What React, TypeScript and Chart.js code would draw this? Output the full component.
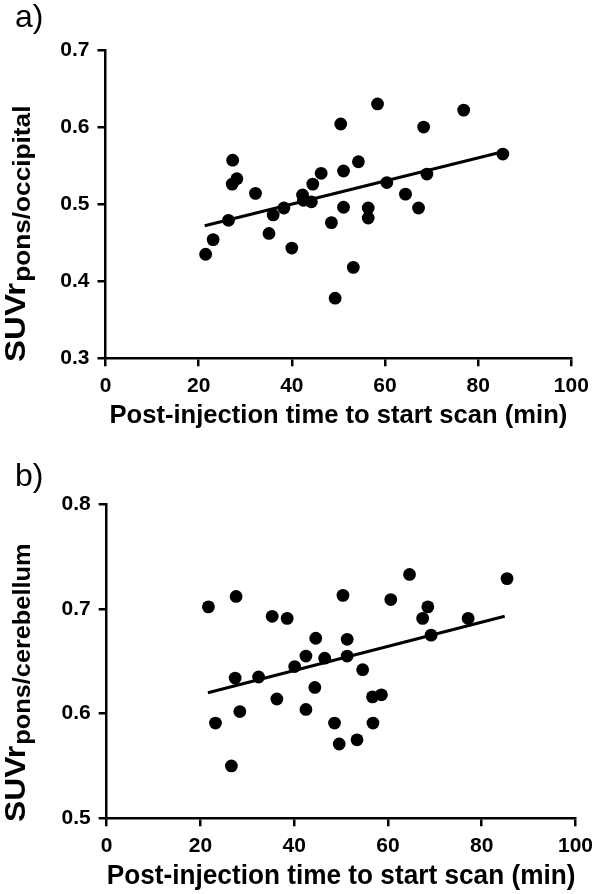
import React, { useEffect, useRef } from "react";
import { Chart, registerables } from "chart.js";

Chart.register(...registerables);

const FONT = '"Liberation Sans", Arial, Helvetica, sans-serif';

// Panel a: SUVr pons/occipital
const timeA = [21.5, 23.1, 26.4, 27.3, 27.2, 28.2, 32.2, 35.1, 36.0, 38.3, 40.0, 42.3, 42.5, 44.2, 44.5, 46.3, 48.5, 49.3, 50.5, 51.1, 51.1, 53.2, 54.3, 56.4, 56.4, 58.4, 60.4, 64.4, 67.2, 68.3, 69.0, 76.9, 85.3];
const suvrA = [0.435, 0.454, 0.479, 0.557, 0.526, 0.533, 0.514, 0.462, 0.486, 0.495, 0.443, 0.512, 0.505, 0.503, 0.526, 0.540, 0.476, 0.378, 0.604, 0.543, 0.496, 0.418, 0.555, 0.495, 0.482, 0.630, 0.528, 0.513, 0.495, 0.600, 0.539, 0.622, 0.565];
const fitTimeA = [21.3, 85.3];
const fitSuvrA = [0.472, 0.568];
const yTicksA = [0.3, 0.4, 0.5, 0.6, 0.7];

// Panel b: SUVr pons/cerebellum
const timeB = [21.7, 27.6, 23.2, 26.6, 27.4, 28.4, 32.4, 35.3, 38.5, 36.3, 40.1, 42.5, 42.5, 44.4, 44.6, 46.5, 48.6, 49.6, 50.4, 51.3, 51.3, 53.4, 54.6, 56.7, 58.6, 56.8, 60.6, 64.6, 67.4, 68.5, 69.2, 77.1, 85.4];
const suvrB = [0.702, 0.712, 0.591, 0.550, 0.634, 0.602, 0.635, 0.693, 0.691, 0.614, 0.645, 0.655, 0.604, 0.625, 0.672, 0.653, 0.591, 0.571, 0.713, 0.671, 0.655, 0.575, 0.642, 0.616, 0.618, 0.591, 0.709, 0.733, 0.691, 0.702, 0.675, 0.691, 0.729];
const fitTimeB = [21.6, 84.9];
const fitSuvrB = [0.620, 0.693];
const yTicksB = [0.5, 0.6, 0.7, 0.8];

const xTicks = [0, 20, 40, 60, 80, 100];
const xTitle = "Post-injection time to start scan (min)";

type PanelProps = {
  top: number;
  height: number;
  letter: string;
  letterY: number;
  sub: string;
  labelStartY: number;
  labelStretch: number;
  xs: number[];
  ys: number[];
  fx: number[];
  fy: number[];
  yTicks: number[];
  padTop: number;
  padRight: number;
  yAxisW: number;
  xAxisH: number;
  titlePad: number;
  titleSize: number;
};

function Panel(p: PanelProps) {
  const ref = useRef<HTMLCanvasElement | null>(null);
  useEffect(() => {
    if (!ref.current) return;
    const labelPlugin = {
      id: "panelLabels",
      afterDraw(chart: any) {
        const ctx = chart.ctx as CanvasRenderingContext2D;
        ctx.save();
        ctx.fillStyle = "#000";
        ctx.font = `32px ${FONT}`;
        ctx.textBaseline = "alphabetic";
        ctx.textAlign = "left";
        ctx.fillText(p.letter, 15, p.letterY);
        ctx.translate(25, p.labelStartY);
        ctx.rotate(-Math.PI / 2);
        ctx.scale(p.labelStretch, 1);
        ctx.font = `bold 29px ${FONT}`;
        ctx.fillText("SUVr", 0, 0);
        const w = ctx.measureText("SUVr").width;
        ctx.font = `bold 23px ${FONT}`;
        ctx.fillText(p.sub, w + 1, 5);
        ctx.restore();
      },
    };
    const chart = new Chart(ref.current, {
      type: "scatter",
      data: {
        datasets: [
          {
            type: "line",
            data: p.fx.map((x, i) => ({ x, y: p.fy[i] })),
            borderColor: "#000",
            borderWidth: 3,
            pointRadius: 0,
            fill: false,
          } as any,
          {
            data: p.xs.map((x, i) => ({ x, y: p.ys[i] })),
            backgroundColor: "#000",
            borderColor: "#000",
            borderWidth: 0,
            pointRadius: 6.4,
          },
        ],
      },
      options: {
        responsive: false,
        animation: false,
        layout: { padding: { top: p.padTop, right: p.padRight, left: 0, bottom: 0 } },
        plugins: { legend: { display: false }, tooltip: { enabled: false } },
        scales: {
          x: {
            type: "linear",
            min: 0,
            max: 100,
            afterBuildTicks: (ax: any) => {
              ax.ticks = xTicks.map((v) => ({ value: v }));
            },
            afterFit: (s: any) => {
              s.height = p.xAxisH;
            },
            border: { display: true, color: "#000", width: 2.5 },
            grid: { drawOnChartArea: false, drawTicks: true, tickLength: 8, color: "#000", lineWidth: 2.5 },
            ticks: {
              color: "#000",
              font: { family: FONT, size: 21, weight: "bold" },
              padding: 7,
              maxRotation: 0,
              autoSkip: false,
              callback: (v: any) => String(v),
            },
            title: {
              display: true,
              text: xTitle,
              color: "#000",
              font: { family: FONT, size: p.titleSize, weight: "bold" },
              padding: { top: 0, bottom: p.titlePad },
            },
          },
          y: {
            type: "linear",
            min: p.yTicks[0],
            max: p.yTicks[p.yTicks.length - 1],
            afterBuildTicks: (ax: any) => {
              ax.ticks = p.yTicks.map((v) => ({ value: v }));
            },
            afterFit: (s: any) => {
              s.width = p.yAxisW;
            },
            border: { display: true, color: "#000", width: 2.5 },
            grid: { drawOnChartArea: false, drawTicks: true, tickLength: 8, color: "#000", lineWidth: 2.5 },
            ticks: {
              color: "#000",
              font: { family: FONT, size: 21, weight: "bold" },
              padding: 8,
              autoSkip: false,
              callback: (v: any) => Number(v).toFixed(1),
            },
          },
        },
      },
      plugins: [labelPlugin],
    } as any);
    return () => chart.destroy();
  }, []);
  return (
    <canvas
      ref={ref}
      width={600}
      height={p.height}
      style={{ position: "absolute", left: 0, top: p.top, width: 600, height: p.height }}
    />
  );
}

export default function App() {
  return (
    <div style={{ position: "absolute", left: 0, top: 0, width: 600, height: 894, background: "#fff" }}>
      <Panel
        top={0}
        height={447}
        letter="a)"
        letterY={27}
        sub="pons/occipital"
        labelStartY={362}
        labelStretch={1.14}
        xs={timeA}
        ys={suvrA}
        fx={fitTimeA}
        fy={fitSuvrA}
        yTicks={yTicksA}
        padTop={50}
        padRight={28.7}
        yAxisW={105.5}
        xAxisH={88.7}
        titlePad={15.5}
        titleSize={25.6}
      />
      <Panel
        top={447}
        height={447}
        letter="b)"
        letterY={39}
        sub="pons/cerebellum"
        labelStartY={375}
        labelStretch={1.1}
        xs={timeB}
        ys={suvrB}
        fx={fitTimeB}
        fy={fitSuvrB}
        yTicks={yTicksB}
        padTop={57.3}
        padRight={19.3}
        yAxisW={106.7}
        xAxisH={75.7}
        titlePad={1}
        titleSize={26.8}
      />
    </div>
  );
}
